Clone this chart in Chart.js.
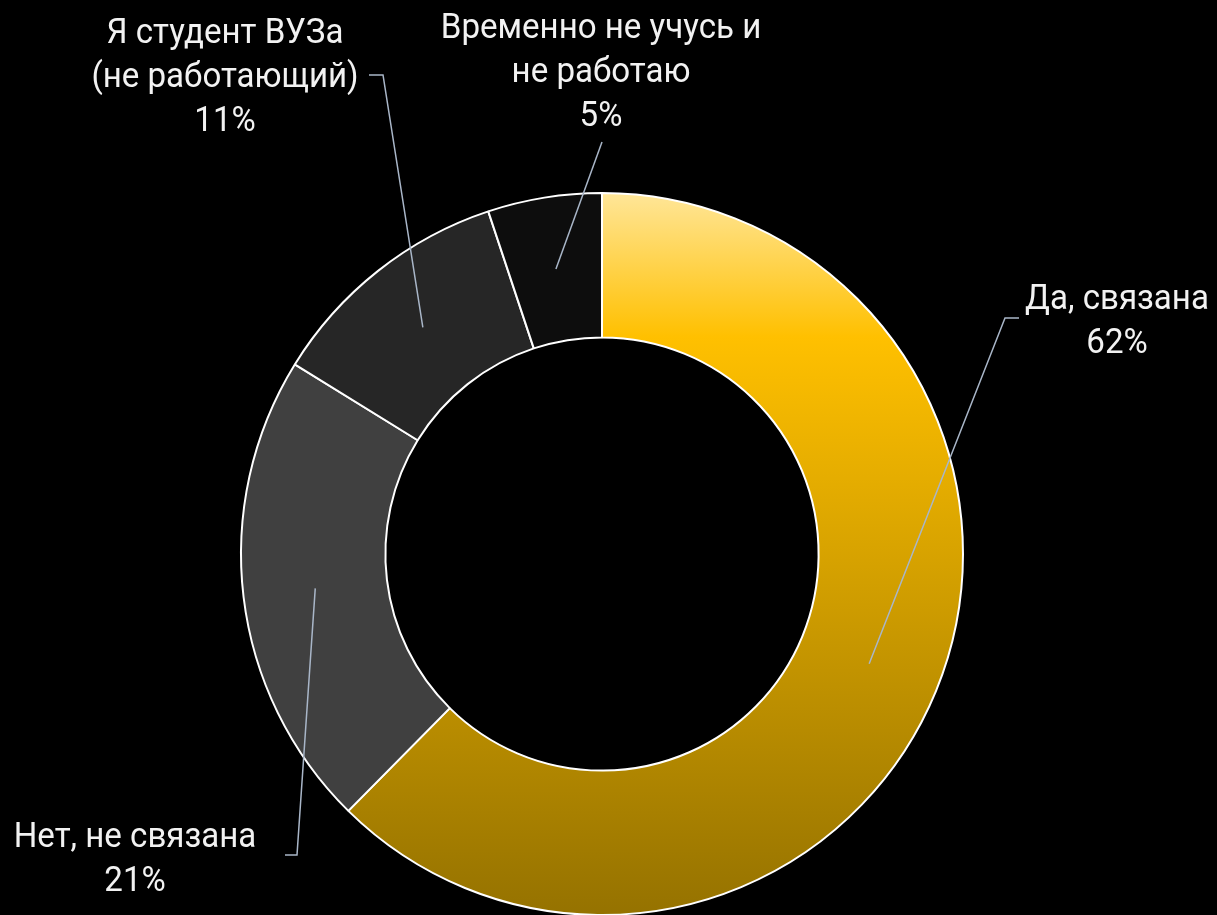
<!DOCTYPE html>
<html>
<head>
<meta charset="utf-8">
<script src="https://cdn.jsdelivr.net/npm/chart.js@4/dist/chart.umd.min.js"></script>
<style>
  html, body { margin: 0; padding: 0; background: #000; overflow: hidden; }
  #wrap { width: 1217px; height: 920px; position: relative; }
</style>
</head>
<body>
<div id="wrap"><canvas id="chart"></canvas></div>
<script>
// data
const categories = [
  ['Да, связана'],
  ['Нет, не связана'],
  ['Я студент ВУЗа', '(не работающий)'],
  ['Временно не учусь и', 'не работаю']
];
const values = [62.4, 21.4, 11.1, 5.1];
const percentLabels = ['62%', '21%', '11%', '5%'];

const sliceColors = [null, '#404040', '#262626', '#0d0d0d'];

// where each label sits: text centre x, first baseline, leader end, elbow
const labelPlaces = [
  { x: 1117, y: 309, end: [1005, 318], elbow: [1019, 318] },
  { x: 135, y: 847, end: [297, 855], elbow: [285, 855] },
  { x: 225, y: 43, end: [383, 75], elbow: [369, 75] },
  { x: 601, y: 38, end: [602, 142], elbow: null }
];

const FONT = '35px Roboto';
const SQUEEZE = 0.945;
const LINE_H = 44;

function goldGradient(context) {
  const chart = context.chart;
  const area = chart.chartArea;
  if (!area) return '#ffc000';
  const g = chart.ctx.createLinearGradient(0, area.top, 0, area.bottom);
  g.addColorStop(0, '#ffe699');
  g.addColorStop(0.2, '#ffc000');
  g.addColorStop(1, '#957200');
  return g;
}

const calloutPlugin = {
  id: 'callouts',
  afterDraw(chart) {
    const ctx = chart.ctx;
    const arcs = chart.getDatasetMeta(0).data;
    ctx.save();
    arcs.forEach((arc, i) => {
      const p = labelPlaces[i];
      const c = arc.getCenterPoint();
      ctx.strokeStyle = '#a9b6c8';
      ctx.lineWidth = 1.5;
      ctx.beginPath();
      ctx.moveTo(c.x, c.y);
      ctx.lineTo(p.end[0], p.end[1]);
      if (p.elbow) ctx.lineTo(p.elbow[0], p.elbow[1]);
      ctx.stroke();

      const lines = categories[i].concat([percentLabels[i]]);
      ctx.font = FONT;
      ctx.fillStyle = '#f2f2f2';
      ctx.textAlign = 'center';
      ctx.textBaseline = 'alphabetic';
      lines.forEach((t, k) => {
        ctx.save();
        ctx.translate(p.x, p.y + k * LINE_H);
        ctx.scale(SQUEEZE, 1);
        ctx.fillText(t, 0, 0);
        ctx.restore();
      });
    });
    ctx.restore();
  }
};

const ctx = document.getElementById('chart').getContext('2d');

const data = {
  labels: categories.map(c => c.join(' ')),
  datasets: [
    {
      data: values,
      backgroundColor: (c) => c.dataIndex === 0 ? goldGradient(c) : sliceColors[c.dataIndex],
      borderColor: '#ffffff',
      borderWidth: 2
    }
  ]
};

const config = {
  type: 'doughnut',
  data: data,
  options: {
    responsive: false,
    animation: false,
    cutout: '60%',
    layout: {
      padding: { top: 192, bottom: 4, left: 240, right: 253 }
    },
    plugins: {
      legend: { display: false },
      title: { display: false },
      tooltip: { enabled: false }
    }
  },
  plugins: [calloutPlugin]
};

const canvas = document.getElementById('chart');
canvas.width = 1217;
canvas.height = 920;
var chart = new Chart(ctx, config);
</script>
</body>
</html>
